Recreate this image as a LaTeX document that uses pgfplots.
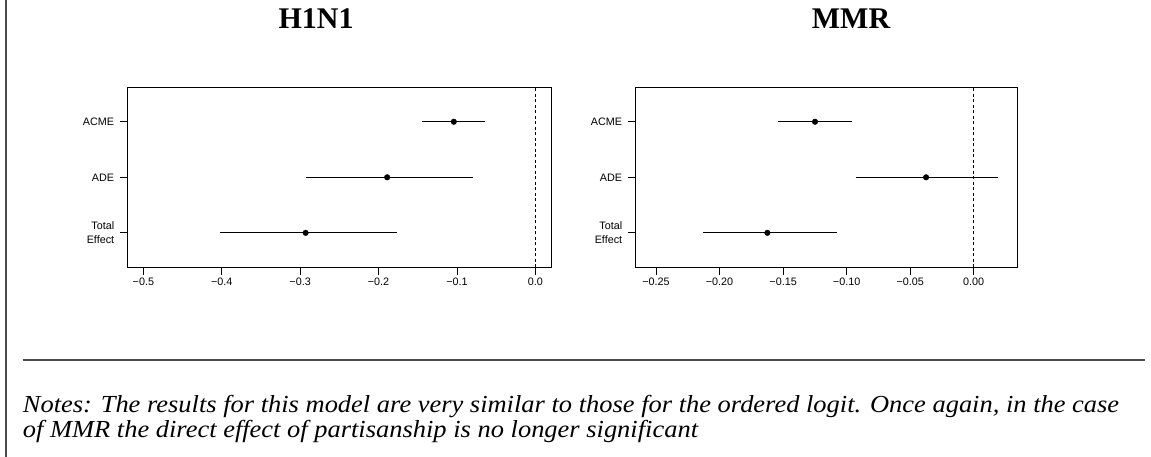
\documentclass[border=0pt]{standalone}
\usepackage{fontspec}
\setmainfont{Liberation Serif}
\setsansfont{Liberation Sans}
\newfontfamily\notesfont{Liberation Serif}[FakeStretch=1.08]
\usepackage{pgfplots}
\pgfplotsset{compat=1.18}
\begin{document}
\begin{tikzpicture}[x=1pt,y=1pt]
\useasboundingbox (0,0) rectangle (1151,457);
\pgfplotsset{
  forest/.style={
    scale only axis,
    anchor=south west,
    ymin=0.38, ymax=3.62,
    ytick={1,2,3},
    yticklabels={{Total\\Effect},ADE,ACME},
    yticklabel style={align=right, xshift=-2.5pt, font=\sffamily\fontsize{10.8}{14}\selectfont},
    xticklabel style={font=\sffamily\fontsize{10.8}{12}\selectfont},
    tick align=outside,
    xtick pos=lower, ytick pos=left,
    major tick length=7.5pt,
    tick style={black, line width=0.8pt},
    axis line style={black, line width=0.9pt},
    clip=false,
    /pgf/number format/assume math mode=true,
  },
  ci/.style={black, line width=1.3pt, mark=none, forget plot},
  pt/.style={only marks, mark=*, mark size=2.8pt, black, forget plot},
  zero/.style={black, dash pattern=on 3pt off 2.5pt, line width=0.8pt, mark=none, forget plot},
}
% H1N1
\begin{axis}[forest,
  at={(127.7pt,189.7pt)}, width=423.3pt, height=180pt,
  xmin=-0.52, xmax=0.02,
  xtick={-0.5,-0.4,-0.3,-0.2,-0.1,0},
  xticklabels={−0.5,−0.4,−0.3,−0.2,−0.1,0.0},
]
\addplot[zero] coordinates {(0,0.38) (0,3.62)};
\addplot[ci] coordinates {(-0.145,3) (-0.064,3)};
\addplot[ci] coordinates {(-0.293,2) (-0.079,2)};
\addplot[ci] coordinates {(-0.402,1) (-0.177,1)};
\addplot[pt] coordinates {(-0.104,3) (-0.189,2) (-0.293,1)};
\end{axis}
% MMR
\begin{axis}[forest,
  at={(635.7pt,189.7pt)}, width=381.6pt, height=180pt,
  xmin=-0.266, xmax=0.0343,
  xtick={-0.25,-0.2,-0.15,-0.1,-0.05,0},
  xticklabels={−0.25,−0.20,−0.15,−0.10,−0.05,0.00},
]
\addplot[zero] coordinates {(0,0.38) (0,3.62)};
\addplot[ci] coordinates {(-0.154,3) (-0.0958,3)};
\addplot[ci] coordinates {(-0.0929,2) (0.0194,2)};
\addplot[ci] coordinates {(-0.2128,1) (-0.1078,1)};
\addplot[pt] coordinates {(-0.1249,3) (-0.0375,2) (-0.1624,1)};
\end{axis}
% titles
\node[font=\bfseries\fontsize{30}{30}\selectfont] at (316,438) {H1N1};
\node[font=\bfseries\fontsize{30}{30}\selectfont] at (851,438) {MMR};
% frame lines
\draw[black!70, line width=1.5pt] (6,0) -- (6,457);
\draw[black!70, line width=1.2pt] (22.7,97) -- (1145,97);
% notes
\node[anchor=base west, inner sep=0pt, font=\notesfont\itshape\fontsize{24.5}{26}\selectfont] at (22.7,44.3)
  {Notes: The results for this model are very similar to those for the ordered logit. Once again, in the case};
\node[anchor=base west, inner sep=0pt, font=\notesfont\itshape\fontsize{24.5}{26}\selectfont] at (22.7,19)
  {of MMR the direct effect of partisanship is no longer significant};
\end{tikzpicture}
\end{document}
